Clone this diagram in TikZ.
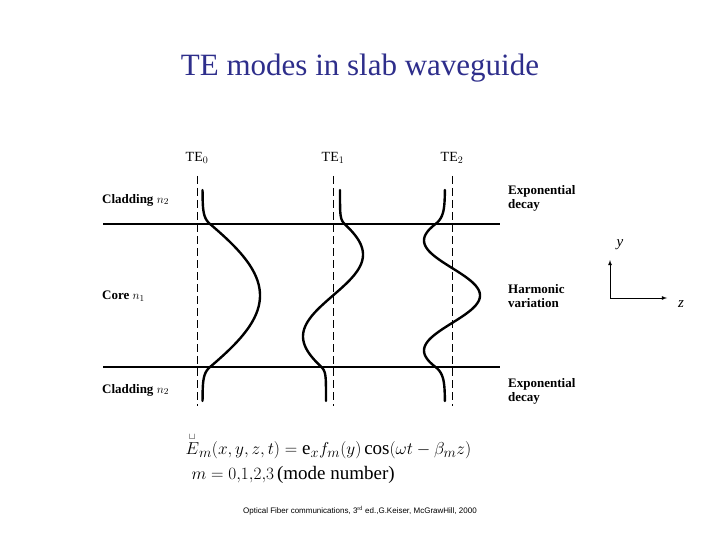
\documentclass[tikz,border=0pt]{standalone}
\usepackage{amsmath}
\usepackage{fontspec}
\setmainfont{Liberation Serif}
\newfontfamily\citefont{Liberation Sans}
\begin{document}
\begin{tikzpicture}[x=1pt,y=-1pt,
  lbl/.style={font=\fontsize{13}{14}\selectfont\bfseries, anchor=west, align=left, inner sep=0},
  curve/.style={line width=2.4pt, line cap=round, line join=round},
  dashline/.style={dashed, dash pattern=on 8pt off 4pt, line width=0.8pt},
  ax/.style={-latex, line width=0.8pt}]
\useasboundingbox (0,0) rectangle (720,540);
\node[text={rgb,255:red,46;green,46;blue,139}, font=\fontsize{31}{33}\selectfont] (title) at (360,68) {TE modes in slab waveguide};
% guide lines
\coordinate (l1a) at (103,224); \coordinate (l1b) at (500,224);
\coordinate (l2a) at (103,367); \coordinate (l2b) at (500,367);
\draw[line width=1.1pt] (l1a) -- (l1b);
\draw[line width=1.1pt] (l2a) -- (l2b);
\foreach \x/\n in {197/0,333/1,452/2}{
  \coordinate (d\n t) at (\x,176); \coordinate (d\n b) at (\x,406);
  \draw[dashline] (d\n t) -- (d\n b);
  \node[font=\fontsize{14}{15}\selectfont] (te\n) at (\x,158) {TE$_{\n}$};
}
% mode curves (u = y - 295.5, core half-width 71.5)
% TE0
\draw[curve] plot[domain=-105.5:-71.5, samples=30] ({197+5.5+7.5*exp(-0.157*(-\x-71.5))},{\x+295.5})
  -- plot[domain=-71.5:71.5, samples=80] ({197+63*cos(1.092*\x)},{\x+295.5})
  -- plot[domain=71.5:105.5, samples=30] ({197+5.5+7.5*exp(-0.157*(\x-71.5))},{\x+295.5});
% TE1
\draw[curve] plot[domain=-105.5:-71.5, samples=30] ({333+7+4.6*exp(-0.23*(-\x-71.5))},{\x+295.5})
  -- plot[domain=-71.5:71.5, samples=80] ({333-30*sin(2.2*\x)},{\x+295.5})
  -- plot[domain=71.5:105.5, samples=30] ({333-7-4.6*exp(-0.23*(\x-71.5))},{\x+295.5});
% TE2
\draw[curve] plot[domain=-105.5:-71.5, samples=30] ({452-7-9.5*exp(-0.136*(-\x-71.5))},{\x+295.5})
  -- plot[domain=-71.5:71.5, samples=80] ({452+28*cos(3.27*\x)},{\x+295.5})
  -- plot[domain=71.5:105.5, samples=30] ({452-7-9.5*exp(-0.136*(\x-71.5))},{\x+295.5});
% side labels
\node[lbl] (c1) at (102,200) {Cladding $n_2$};
\node[lbl] (co) at (102,296) {Core $n_1$};
\node[lbl] (c2) at (102,390) {Cladding $n_2$};
\node[lbl] (e1) at (508,198) {Exponential\\decay};
\node[lbl] (hv) at (508,296) {Harmonic\\variation};
\node[lbl] (e2) at (508,391) {Exponential\\decay};
% axes
\coordinate (o) at (610,298); \coordinate (yy) at (610,260); \coordinate (zz) at (667,298);
\draw[ax] (o) -- (yy);
\draw[ax] (o) -- (zz);
\node[font=\fontsize{15}{15}\selectfont\itshape] (ly) at (620,245) {y};
\node[font=\fontsize{15}{15}\selectfont\itshape] (lz) at (681,304) {z};
% equation
\node[font=\fontsize{19}{21}\selectfont, anchor=west] (eq1) at (182,446) {$\overset{\scriptscriptstyle\sqcup}{E}_m(x,y,z,t)=\mathrm{e}_x f_m(y)\cos(\omega t-\beta_m z)$};
\node[font=\fontsize{19}{21}\selectfont, anchor=west] (eq2) at (188,475) {$m=0{,}1{,}2{,}3\,$(mode number)};
\node[font=\citefont\fontsize{8}{9}\selectfont] (cite) at (360,511) {Optical Fiber communications, 3$^{\rm rd}$ ed.,G.Keiser, McGrawHill, 2000};
\end{tikzpicture}
\end{document}
